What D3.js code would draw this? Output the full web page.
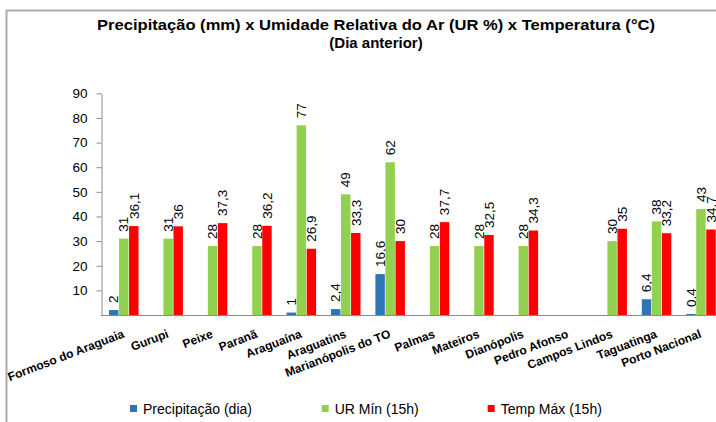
<!DOCTYPE html>
<html><head><meta charset="utf-8">
<script src="https://cdn.jsdelivr.net/npm/d3@7"></script>
<style>body{margin:0;background:#fff}svg{display:block}</style>
</head><body>
<svg id="c" width="716" height="422"></svg>
<script>
const categories = ["Formoso do Araguaia","Gurupi","Peixe","Paranã","Araguaína","Araguatins","Marianópolis do TO","Palmas","Mateiros","Dianópolis","Pedro Afonso","Campos Lindos","Taguatinga","Porto Nacional"];
const precipitacao = [2,null,null,null,1,2.4,16.6,null,null,null,null,null,6.4,0.4];
const urMin = [31,31,28,28,77,49,62,28,28,28,null,30,38,43];
const tempMax = [36.1,36,37.3,36.2,26.9,33.3,30,37.7,32.5,34.3,null,35,33.2,34.7];
const yTicks = [10,20,30,40,50,60,70,80,90];
const seriesNames = ["Precipitação (dia)","UR Mín (15h)","Temp Máx (15h)"];
const seriesColors = ["#2e75b6","#92d050","#ff0000"];
const seriesValues = [precipitacao, urMin, tempMax];

const svg = d3.select("#c");
svg.append("rect").attr("width",716).attr("height",422).attr("fill","#fff");
// chart border
svg.append("path").attr("d","M6.5,422 V10.5 H716").attr("fill","none").attr("stroke","#ababab").attr("stroke-width",2);

// title
const title = svg.append("text").attr("text-anchor","middle").attr("font-family","Liberation Sans, Arial, sans-serif").attr("font-weight","bold").attr("font-size",15).attr("fill","#000");
title.append("tspan").attr("x",376).attr("y",30).text("Precipitação (mm) x Umidade Relativa do Ar (UR %) x Temperatura (°C)").attr("textLength",558).attr("lengthAdjust","spacingAndGlyphs");
title.append("tspan").attr("x",376).attr("y",48).text("(Dia anterior)");

const y = d3.scaleLinear().domain([0,90]).range([315,93.3]);
const x = d3.scaleBand().domain(categories).range([101.3,101.3+44.4*14]).padding(0);
const xs = d3.scaleBand().domain([0,1,2]).range([7.7,37.2]).paddingInner(0.06);

// y axis
const yAxis = d3.axisLeft(y).tickValues(yTicks).tickSize(5).tickSizeOuter(0).tickPadding(9);
const ya = svg.append("g").attr("transform","translate(101.5,0)").call(yAxis);
ya.select(".domain").attr("stroke","#8c8c8c");
ya.selectAll(".tick line").attr("stroke","#8c8c8c");
ya.selectAll(".tick text").attr("font-family","Liberation Sans, Arial, sans-serif").attr("font-size",13.5).attr("fill","#000");

// bars
const g = svg.append("g");
seriesValues.forEach((vals, si) => {
  const data = categories.map((c,i)=>({c, v: vals[i]})).filter(d=>d.v!=null);
  g.selectAll(null).data(data).enter().append("rect")
    .attr("x", d=>x(d.c)+xs(si))
    .attr("width", xs.bandwidth())
    .attr("y", d=>y(d.v))
    .attr("height", d=>y(0)-y(d.v))
    .attr("fill", seriesColors[si]);
  g.selectAll(null).data(data).enter().append("text")
    .attr("transform", d=>`translate(${x(d.c)+xs(si)+xs.bandwidth()/2},${y(d.v)-7}) rotate(-90)`)
    .attr("dy","0.35em")
    .attr("font-family","Liberation Sans, Arial, sans-serif")
    .attr("font-size",13.5)
    .attr("fill","#000")
    .text(d=>String(d.v).replace(".",","));
});

// baseline
svg.append("line").attr("x1",101).attr("x2",716).attr("y1",315.5).attr("y2",315.5).attr("stroke","#8c8c8c");

// x labels
svg.selectAll(null).data(categories).enter().append("text")
  .attr("transform", d=>`translate(${x(d)+x.bandwidth()/2+1.5},337) rotate(-21)`)
  .attr("text-anchor","end")
  .attr("font-family","Liberation Sans, Arial, sans-serif")
  .attr("font-weight","bold")
  .attr("font-size",12)
  .attr("fill","#000")
  .text(d=>d);

// legend
const legX = [130,321.7,487.7];
seriesNames.forEach((n,i)=>{
  svg.append("rect").attr("x",legX[i]).attr("y",405).attr("width",7).attr("height",7).attr("fill",seriesColors[i]);
  svg.append("text").attr("x",legX[i]+13).attr("y",413.5).attr("font-family","Liberation Sans, Arial, sans-serif").attr("font-size",14).attr("fill","#000").text(n);
});
</script>
</body></html>
